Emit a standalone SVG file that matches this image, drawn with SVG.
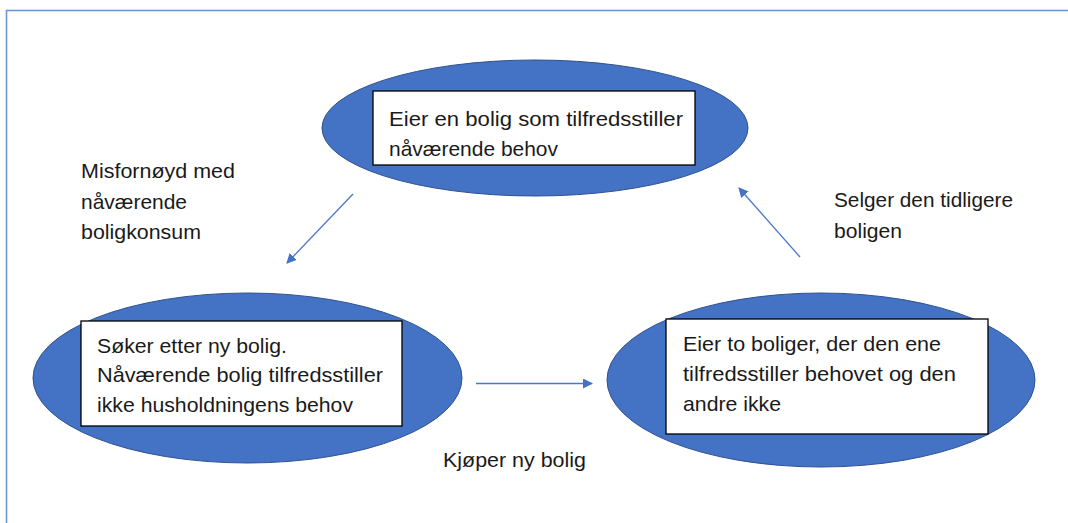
<svg xmlns="http://www.w3.org/2000/svg" width="1068" height="523" viewBox="0 0 1068 523">
  <style>
    .frame { fill: none; stroke: #7096d8; stroke-width: 1.6; }
    .stage { fill: #4472c4; stroke: #2f528f; stroke-width: 1; }
    .box { fill: #ffffff; stroke: #000000; stroke-width: 1.3; }
    .txt { font-family: "Liberation Sans", Arial, sans-serif; font-size: 21px; fill: #1a1a1a; }
    .flow { fill: none; stroke: #4a78c8; stroke-width: 1.3; marker-end: url(#head); }
  </style>
  <defs>
    <marker id="head" viewBox="0 0 10 10" refX="9" refY="5" markerWidth="10" markerHeight="10" markerUnits="userSpaceOnUse" orient="auto">
      <path d="M0,0 L10,5 L0,10 Z" fill="#4472c4"/>
    </marker>
  </defs>

  <rect class="frame" x="6.5" y="10.5" width="1100" height="560"/>

  <g id="owns-one">
    <ellipse class="stage" cx="535" cy="128" rx="213" ry="68"/>
    <rect class="box" x="373" y="91" width="322" height="74"/>
    <text class="txt" x="389" y="126" textLength="294" lengthAdjust="spacingAndGlyphs">Eier en bolig som tilfredsstiller</text>
    <text class="txt" x="389" y="156" textLength="169" lengthAdjust="spacingAndGlyphs">nåværende behov</text>
  </g>

  <g id="searching">
    <ellipse class="stage" cx="247.5" cy="378" rx="214.5" ry="85"/>
    <rect class="box" x="81" y="321" width="321" height="105"/>
    <text class="txt" x="97" y="353" textLength="190" lengthAdjust="spacingAndGlyphs">Søker etter ny bolig.</text>
    <text class="txt" x="97" y="382" textLength="286" lengthAdjust="spacingAndGlyphs">Nåværende bolig tilfredsstiller</text>
    <text class="txt" x="97" y="412" textLength="256" lengthAdjust="spacingAndGlyphs">ikke husholdningens behov</text>
  </g>

  <g id="owns-two">
    <ellipse class="stage" cx="821" cy="380" rx="214" ry="87"/>
    <rect class="box" x="666" y="319" width="322" height="115"/>
    <text class="txt" x="683" y="351" textLength="258" lengthAdjust="spacingAndGlyphs">Eier to boliger, der den ene</text>
    <text class="txt" x="683" y="381" textLength="273" lengthAdjust="spacingAndGlyphs">tilfredsstiller behovet og den</text>
    <text class="txt" x="683" y="411" textLength="98" lengthAdjust="spacingAndGlyphs">andre ikke</text>
  </g>

  <g id="connectors">
    <line class="flow" x1="353" y1="194" x2="287" y2="263"/>
    <line class="flow" x1="476" y1="383.5" x2="592" y2="383.5"/>
    <line class="flow" x1="800" y1="257" x2="739" y2="188"/>
  </g>

  <g id="labels">
    <text class="txt" x="81" y="178" textLength="154" lengthAdjust="spacingAndGlyphs">Misfornøyd med</text>
    <text class="txt" x="81" y="209" textLength="106" lengthAdjust="spacingAndGlyphs">nåværende</text>
    <text class="txt" x="81" y="239" textLength="120" lengthAdjust="spacingAndGlyphs">boligkonsum</text>
    <text class="txt" x="834" y="207" textLength="179" lengthAdjust="spacingAndGlyphs">Selger den tidligere</text>
    <text class="txt" x="834" y="238" textLength="68" lengthAdjust="spacingAndGlyphs">boligen</text>
    <text class="txt" x="443" y="467" textLength="143" lengthAdjust="spacingAndGlyphs">Kjøper ny bolig</text>
  </g>
</svg>
